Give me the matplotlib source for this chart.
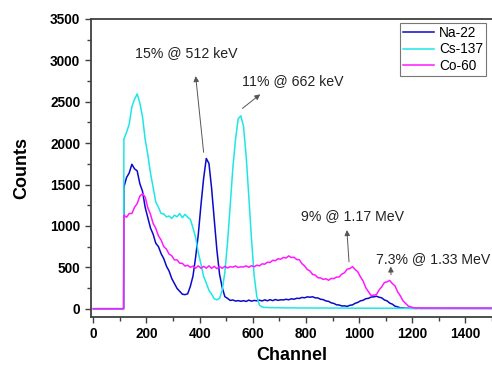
import matplotlib
matplotlib.use('Agg')
import matplotlib.pyplot as plt
from matplotlib.ticker import MultipleLocator

plt.rcParams['font.family'] = ['Liberation Sans', 'DejaVu Sans']

# channel grid: flat zero before threshold, then every 10 channels
channels = [0, 114] + list(range(115, 1250, 10)) + [1500]

na22 = [0, 0,
        1470, 1585, 1640, 1745, 1690, 1665, 1510, 1420, 1225, 1100,
        975, 900, 790, 750, 665, 605, 515, 455, 365, 305,
        245, 210, 175, 170, 180, 270, 395, 625, 900, 1255,
        1575, 1815, 1755, 1455, 1075, 705, 415, 255, 145, 125,
        100, 106, 92, 98, 90, 97, 88, 104, 91, 100,
        96, 103, 94, 107, 96, 109, 98, 111, 101, 108,
        106, 114, 108, 120, 114, 126, 124, 136, 132, 143,
        139, 144, 131, 130, 114, 110, 94, 89, 71, 64,
        47, 45, 33, 35, 28, 41, 46, 65, 76, 95,
        102, 121, 125, 141, 143, 151, 139, 131, 106, 95,
        68, 55, 31, 22, 11, 9, 5, 6, 4, 5,
        3, 5, 3, 4,
        3]

cs137 = [0, 0,
         2050, 2130, 2230, 2440, 2530, 2595, 2485, 2320, 2045, 1860,
         1640, 1465, 1290, 1225, 1150, 1145, 1110, 1120, 1090, 1130,
         1110, 1150, 1100, 1140, 1105, 1080, 975, 860, 675, 540,
         390, 310, 222, 176, 120, 108, 126, 225, 445, 805,
         1245, 1705, 2045, 2295, 2330, 2205, 1845, 1355, 845, 405,
         148, 42, 22, 14, 16, 12, 14, 11, 13, 10,
         12, 9, 11, 10, 11, 8, 10, 9, 10, 8,
         10, 8, 9, 7, 9, 8, 9, 7, 8, 7,
         9, 6, 8, 7, 8, 6, 8, 6, 7, 6,
         7, 5, 7, 6, 7, 5, 6, 5, 7, 5,
         6, 5, 6, 4, 6, 5, 5, 4, 5, 4,
         5, 4, 5, 4,
         4]

co60 = [0, 0,
        1130, 1105, 1150, 1150, 1225, 1270, 1360, 1390, 1350, 1220,
        1140, 1030, 970, 880, 830, 750, 720, 660, 640, 590,
        590, 550, 548, 515, 525, 500, 515, 490, 518, 488,
        512, 490, 518, 488, 512, 484, 510, 488, 512, 492,
        508, 502, 516, 498, 506, 504, 518, 500, 520, 506,
        526, 518, 542, 538, 562, 558, 585, 580, 604, 598,
        620, 612, 638, 618, 622, 594, 592, 544, 516, 474,
        456, 414, 406, 374, 372, 354, 362, 344, 366, 364,
        382, 384, 418, 434, 478, 484, 508, 474, 446, 384,
        336, 254, 206, 160, 164, 170, 226, 264, 316, 324,
        342, 304, 276, 204, 156, 96, 64, 32, 22, 11,
        11, 8, 10, 8,
        8]

series = [('Na-22', na22, '#0a0acc'),
          ('Cs-137', cs137, '#1ee6e6'),
          ('Co-60', co60, '#ff19ff')]

# (text, text position, arrow tail, arrow head)
notes = [('15% @ 512 keV', (156, 3084), (415, 1890), (385, 2810)),
         ('11% @ 662 keV', (561, 2747), (561, 2420), (628, 2590)),
         ('9% @ 1.17 MeV', (782, 1120), (962, 566), (954, 950)),
         ('7.3% @ 1.33 MeV', (1063, 602), (1120, 410), (1119, 510))]

fig = plt.figure(figsize=(4.92, 3.66), dpi=100)
ax = fig.add_axes([0.1843, 0.1339, 0.8157, 0.8142])

for name, vals, color in series:
    ax.plot(channels, vals, color=color, lw=1.1, label=name)

for text, tpos, tail, head in notes:
    ax.text(tpos[0], tpos[1], text, fontsize=10.2, color='#222222',
            ha='left', va='center')
    ax.annotate('', xy=head, xytext=tail,
                arrowprops=dict(arrowstyle='-|>', color='#555555', lw=0.7,
                                mutation_scale=8, shrinkA=0, shrinkB=0))

ax.set_xlim(-10, 1500)
ax.set_ylim(-100, 3500)
ax.xaxis.set_major_locator(MultipleLocator(200))
ax.xaxis.set_minor_locator(MultipleLocator(100))
ax.yaxis.set_major_locator(MultipleLocator(500))
ax.yaxis.set_minor_locator(MultipleLocator(250))
ax.tick_params(which='both', direction='out', width=1, color='#404040')
ax.tick_params(which='major', length=4, labelsize=9.8)
ax.tick_params(which='minor', length=3)
for lab in ax.get_xticklabels() + ax.get_yticklabels():
    lab.set_fontweight('bold')

ax.spines['right'].set_visible(False)
for s in ('left', 'bottom', 'top'):
    ax.spines[s].set_linewidth(1.3)
    ax.spines[s].set_color('#404040')

ax.set_xlabel('Channel', fontsize=13, fontweight='bold', labelpad=4)
ax.set_ylabel('Counts', fontsize=13, fontweight='bold', labelpad=14)

leg = ax.legend(loc='upper right', bbox_to_anchor=(0.985, 0.987),
                borderaxespad=0, fontsize=9.8, fancybox=False,
                edgecolor='#777777', framealpha=1, handlelength=2.3,
                handletextpad=0.35, labelspacing=0.2, borderpad=0.2)
leg.get_frame().set_linewidth(0.8)

fig.savefig('out.png', dpi=100)
